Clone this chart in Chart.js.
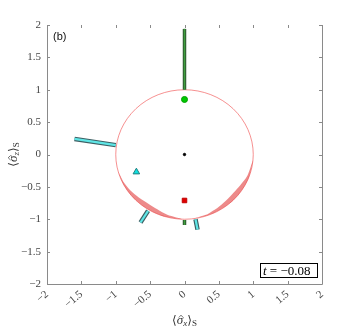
<!DOCTYPE html>
<html>
<head>
<meta charset="utf-8">
<script src="https://cdn.jsdelivr.net/npm/chart.js@4/dist/chart.umd.min.js"></script>
<style>
  html, body { margin: 0; padding: 0; background: #fff; }
  #wrap { width: 355px; height: 330px; }
</style>
</head>
<body>
<div id="wrap"><canvas id="blochChart" width="355" height="330"></canvas></div>
<script>
// axis ticks
const tickValues = [-2, -1.5, -1, -0.5, 0, 0.5, 1, 1.5, 2];

// reference circle (radius in data units)
const circleRadius = 1;

// shaded band along lower-left of the circle (outer edge, then inner edge back)
const bandLeftX = [-0.966, -0.906, -0.819, -0.707, -0.574, -0.423, -0.259, -0.035,
                   -0.25, -0.396, -0.531, -0.665, -0.79, -0.892];
const bandLeftY = [-0.259, -0.423, -0.574, -0.707, -0.819, -0.906, -0.966, -0.999,
                   -0.932, -0.847, -0.758, -0.665, -0.554, -0.417];
// shaded band along lower-right of the circle
const bandRightX = [0.139, 0.342, 0.5, 0.643, 0.766, 0.866, 0.94, 0.996,
                    0.912, 0.814, 0.709, 0.601, 0.478, 0.335];
const bandRightY = [-0.99, -0.94, -0.866, -0.766, -0.643, -0.5, -0.342, -0.087,
                    -0.332, -0.47, -0.595, -0.716, -0.827, -0.921];

// bars: [start, end] pairs
const greenBarsX = [[0, 0], [0, 0]];
const greenBarsY = [[1.0, 1.94], [-1.01, -1.09]];
const cyanBarsX = [[-1.0, -1.6], [-0.53, -0.64], [0.16, 0.19]];
const cyanBarsY = [[0.145, 0.24], [-0.87, -1.05], [-1.0, -1.16]];

// markers
const greenDot = [0, 0.85];
const redSquare = [0, -0.71];
const cyanTriangle = [-0.70, -0.27];
const originDot = [0, 0];

const timeLabel = '\u2212' + '0.08';

function pts(xs, ys) {
    return xs.map((x, i) => ({ x: x, y: ys[i] }));
}
function fmt(v) {
    return v < 0 ? '\u2212' + Math.abs(v) : String(v);
}

const datasets = [];

// markers on top
datasets.push({ data: [{ x: originDot[0], y: originDot[1] }], pointRadius: 1.2,
    backgroundColor: '#000', borderColor: '#000', order: 0 });
datasets.push({ data: [{ x: greenDot[0], y: greenDot[1] }], pointRadius: 3,
    backgroundColor: '#00c800', borderColor: '#00a000', borderWidth: 1, order: 0 });
datasets.push({ data: [{ x: redSquare[0], y: redSquare[1] }], pointStyle: 'rect', pointRadius: 3.2,
    backgroundColor: '#e00000', borderColor: '#c00000', borderWidth: 1, order: 0 });
datasets.push({ data: [{ x: cyanTriangle[0], y: cyanTriangle[1] }], pointStyle: 'triangle', pointRadius: 3.8,
    backgroundColor: '#10e0e0', borderColor: '#208080', borderWidth: 1, order: 0 });

// bars: dark outline line, then lighter fill line on top
greenBarsX.forEach((bx, i) => {
    datasets.push({ data: pts(bx, greenBarsY[i]), showLine: true, pointRadius: 0,
        borderColor: '#2f5a2f', borderWidth: 3.5, borderCapStyle: 'butt', order: 2 });
    datasets.push({ data: pts(bx, greenBarsY[i]), showLine: true, pointRadius: 0,
        borderColor: '#3f9f3f', borderWidth: 1.4, borderCapStyle: 'butt', order: 1 });
});
cyanBarsX.forEach((bx, i) => {
    datasets.push({ data: pts(bx, cyanBarsY[i]), showLine: true, pointRadius: 0,
        borderColor: '#3d5f63', borderWidth: 4.5, borderCapStyle: 'butt', order: 2 });
    datasets.push({ data: pts(bx, cyanBarsY[i]), showLine: true, pointRadius: 0,
        borderColor: '#5fe6e6', borderWidth: 2.2, borderCapStyle: 'butt', order: 1 });
});

// shaded bands
[[bandLeftX, bandLeftY], [bandRightX, bandRightY]].forEach(b => {
    datasets.push({ data: pts(b[0], b[1]), showLine: true, pointRadius: 0, tension: 0.3,
        borderColor: 'rgba(225,70,70,0)', borderWidth: 0,
        backgroundColor: 'rgba(228,75,75,0.65)', fill: 'shape', order: 3 });
});

// draws circle, box, inward ticks, axis titles and annotations
const decor = {
    id: 'decor',
    beforeDatasetsDraw(chart) {
        const ctx = chart.ctx;
        const xs = chart.scales.x, ys = chart.scales.y;
        const cx = xs.getPixelForValue(0), cy = ys.getPixelForValue(0);
        const rx = xs.getPixelForValue(circleRadius) - cx;
        const ry = cy - ys.getPixelForValue(circleRadius);
        ctx.save();
        ctx.beginPath();
        ctx.ellipse(cx, cy, rx, ry, 0, 0, Math.PI * 2);
        ctx.strokeStyle = 'rgba(240,80,80,0.7)';
        ctx.lineWidth = 0.9;
        ctx.stroke();
        ctx.restore();
    },
    afterDraw(chart) {
        const ctx = chart.ctx;
        const a = chart.chartArea;
        const xs = chart.scales.x, ys = chart.scales.y;
        ctx.save();
        ctx.strokeStyle = '#8a8a8a';
        ctx.lineWidth = 1;
        ctx.beginPath();
        ctx.moveTo(a.left + 0.5, a.top);
        ctx.lineTo(a.left + 0.5, a.bottom + 0.5);
        ctx.lineTo(a.right + 0.5, a.bottom + 0.5);
        ctx.lineTo(a.right + 0.5, a.top);
        ctx.stroke();
        const tl = 3;
        ctx.beginPath();
        tickValues.forEach(v => {
            const px = Math.round(xs.getPixelForValue(v)) + 0.5;
            ctx.moveTo(px, a.bottom); ctx.lineTo(px, a.bottom - tl);
            ctx.moveTo(px, a.top); ctx.lineTo(px, a.top + tl);
            const py = Math.round(ys.getPixelForValue(v)) + 0.5;
            ctx.moveTo(a.left, py); ctx.lineTo(a.left + tl, py);
            ctx.moveTo(a.right, py); ctx.lineTo(a.right - tl, py);
        });
        ctx.stroke();

        // panel label
        ctx.fillStyle = '#111';
        ctx.font = '11px "Liberation Sans"';
        ctx.textBaseline = 'middle';
        ctx.textAlign = 'left';
        ctx.fillText('(b)', a.left + 6, a.top + 12);

        // time box
        const bw = 57, bh = 14;
        const bx = a.right - 5 - bw, by = a.bottom - 7 - bh;
        ctx.fillStyle = '#fff';
        ctx.fillRect(bx, by, bw, bh);
        ctx.strokeStyle = '#000';
        ctx.strokeRect(bx + 0.5, by + 0.5, bw, bh);
        ctx.fillStyle = '#000';
        ctx.textBaseline = 'alphabetic';
        ctx.font = 'italic 13px "Liberation Serif"';
        ctx.fillText('t', bx + 3, by + 12);
        const tw = ctx.measureText('t').width;
        ctx.font = '13px "Liberation Serif"';
        ctx.fillText(' = ' + timeLabel, bx + 3 + tw, by + 12);

        // axis titles
        drawMath(ctx, 'x', (a.left + a.right) / 2, 321, 0);
        drawMath(ctx, 'z', 14, (a.top + a.bottom) / 2, -Math.PI / 2);
        ctx.restore();
    }
};

function drawMath(ctx, sub, x, y, rot) {
    const parts = [
        { t: '\u27E8', f: '12px "DejaVu Serif"', dy: 0 },
        { t: '\u03C3', f: 'italic 13px "Liberation Serif"', dy: 0, hat: true },
        { t: sub, f: 'italic 9px "Liberation Serif"', dy: 3 },
        { t: '\u27E9', f: '12px "DejaVu Serif"', dy: 0 },
        { t: 'S', f: '9px "Liberation Serif"', dy: 3 }
    ];
    let w = 0;
    parts.forEach(p => { ctx.font = p.f; p.w = ctx.measureText(p.t).width; w += p.w; });
    ctx.save();
    ctx.translate(x, y);
    ctx.rotate(rot);
    ctx.fillStyle = '#333';
    ctx.strokeStyle = '#333';
    ctx.lineWidth = 0.7;
    ctx.textAlign = 'left';
    ctx.textBaseline = 'middle';
    let cx = -w / 2;
    parts.forEach(p => {
        ctx.font = p.f;
        ctx.fillText(p.t, cx, p.dy);
        if (p.hat) {
            const hx = cx + p.w / 2 + 1;
            ctx.beginPath();
            ctx.moveTo(hx - 2.2, -3.5);
            ctx.lineTo(hx, -5.8);
            ctx.lineTo(hx + 2.2, -3.5);
            ctx.stroke();
        }
        cx += p.w;
    });
    ctx.restore();
}

new Chart(document.getElementById('blochChart'), {
    type: 'scatter',
    data: { datasets: datasets },
    options: {
        responsive: false,
        animation: false,
        events: [],
        layout: { padding: { top: 25, right: 33, left: 0, bottom: 0 } },
        plugins: { legend: { display: false }, tooltip: { enabled: false } },
        scales: {
            x: {
                type: 'linear', min: -2, max: 2,
                grid: { display: false, drawTicks: false },
                border: { display: false },
                ticks: {
                    stepSize: 0.5, padding: 4, minRotation: 40, maxRotation: 40,
                    color: '#444', font: { family: 'Liberation Serif', size: 11 },
                    callback: v => fmt(v)
                },
                afterFit: s => { s.height = 46; }
            },
            y: {
                type: 'linear', min: -2, max: 2,
                grid: { display: false, drawTicks: false },
                border: { display: false },
                ticks: {
                    stepSize: 0.5, padding: 6,
                    color: '#444', font: { family: 'Liberation Serif', size: 11 },
                    callback: v => fmt(v)
                },
                afterFit: s => { s.width = 47; }
            }
        }
    },
    plugins: [decor]
});
</script>
</body>
</html>
